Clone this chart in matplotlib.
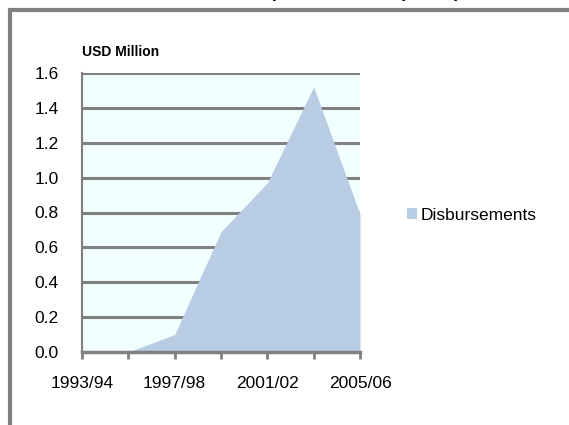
import matplotlib.pyplot as plt
from matplotlib.patches import Patch, Rectangle

# data
years = ["1993/94", "1995/96", "1997/98", "1999/00", "2001/02", "2003/04", "2005/06"]
disbursements = [0.0, 0.0, 0.10, 0.69, 0.97, 1.52, 0.79]
y_ticks = [0.0, 0.2, 0.4, 0.6, 0.8, 1.0, 1.2, 1.4, 1.6]

plt.rcParams['font.family'] = ['Liberation Sans', 'DejaVu Sans']

W, H = 569, 425
fig = plt.figure(figsize=(W / 100, H / 100), dpi=100)
fig.patch.set_facecolor('white')

# outer chart frame (only top and left edges visible)
frame = Rectangle((10 / W, -0.2), 1.5, 1.2 - 10 / H, transform=fig.transFigure,
                  fill=False, edgecolor='#808080', linewidth=3, zorder=0)
fig.add_artist(frame)

# title, mostly cut off above the canvas
fig.text(365 / W, 1 + 3 / H, "(constant 2005 prices)", ha='center', va='baseline',
         fontsize=13, fontweight='bold', color='black')

ax = fig.add_axes([82 / W, 1 - 352 / H, (360 - 82) / W, (352 - 73) / H])
ax.set_facecolor('#F2FFFF')

x = list(range(len(years)))
ax.fill_between(x, disbursements, 0, color='#B8CCE4', linewidth=0, zorder=3)

ax.set_xlim(0, len(years) - 1)
ax.set_ylim(0, 1.6)
ax.set_yticks(y_ticks)
ax.set_yticklabels([f"{v:.1f}" for v in y_ticks], fontsize=12.5)
ax.set_xticks(x)
ax.set_xticklabels([lab if i % 2 == 0 else "" for i, lab in enumerate(years)], fontsize=12.5)

for v in y_ticks[1:]:
    ax.axhline(v, color='#808080', linewidth=2.2, zorder=1)

for s in ['top', 'right']:
    ax.spines[s].set_visible(False)
ax.spines['left'].set_color('#808080')
ax.spines['left'].set_linewidth(1.5)
ax.spines['bottom'].set_color('#808080')
ax.spines['bottom'].set_linewidth(2.5)
ax.spines['bottom'].set_zorder(5)

ax.tick_params(axis='y', length=0, pad=17)
ax.tick_params(axis='x', direction='out', length=5, width=2, color='#808080', pad=12)

ax.text(0, 1.0 + 21 / (352 - 73), "USD Million", transform=ax.transAxes,
        fontsize=10, fontweight='bold', ha='left', va='center')

handles = [Patch(facecolor='#B8CCE4', edgecolor='none', label='Disbursements')]
fig.legend(handles=handles, loc='center left', bbox_to_anchor=(400 / W, 1 - 215 / H),
           frameon=False, fontsize=12.5, handlelength=0.6, handleheight=0.6,
           handletextpad=0.2, borderaxespad=0)

fig.savefig('out.png', dpi=100)
